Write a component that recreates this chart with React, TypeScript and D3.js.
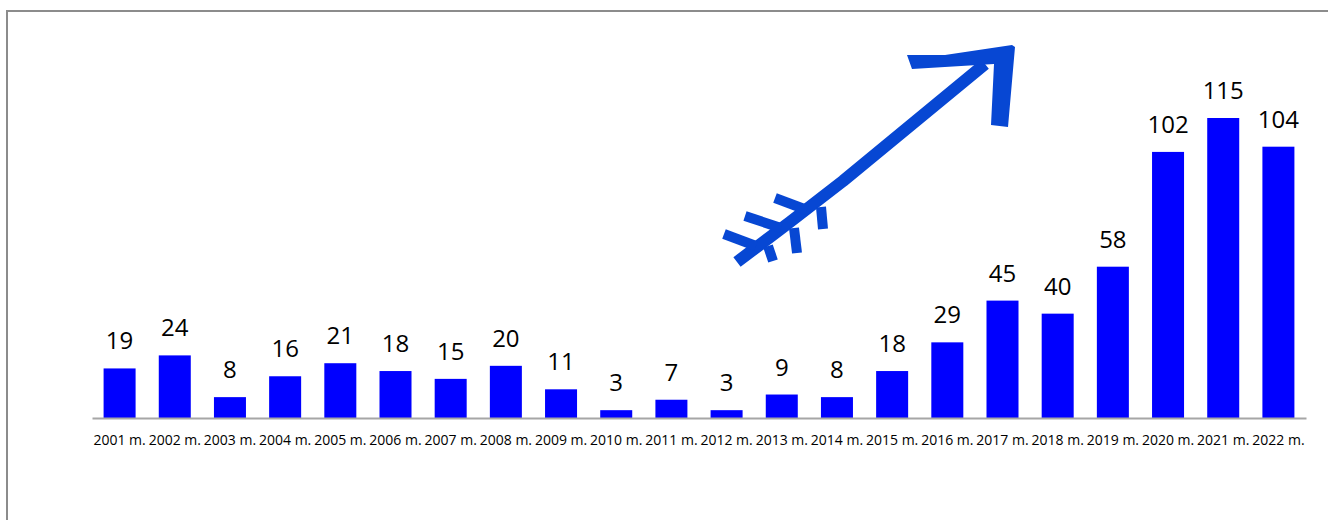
import React, { useEffect, useRef } from 'react';
import * as d3 from 'd3';

const years = [
  '2001 m.', '2002 m.', '2003 m.', '2004 m.', '2005 m.', '2006 m.', '2007 m.', '2008 m.',
  '2009 m.', '2010 m.', '2011 m.', '2012 m.', '2013 m.', '2014 m.', '2015 m.', '2016 m.',
  '2017 m.', '2018 m.', '2019 m.', '2020 m.', '2021 m.', '2022 m.',
];
const counts = [19, 24, 8, 16, 21, 18, 15, 20, 11, 3, 7, 3, 9, 8, 18, 29, 45, 40, 58, 102, 115, 104];

const W = 1328;
const H = 520;
const FONT = "'Open Sans', sans-serif";

const App: React.FC = () => {
  const svgRef = useRef<SVGSVGElement>(null);

  useEffect(() => {
    if (!svgRef.current) return;
    const svg = d3.select(svgRef.current);
    svg.selectAll('*').remove();

    const data = years.map((y, i) => ({ year: y, value: counts[i] }));

    // frame
    svg.append('rect')
      .attr('x', 7).attr('y', 11)
      .attr('width', W).attr('height', H)
      .attr('fill', 'white')
      .attr('stroke', '#8c8c8c')
      .attr('stroke-width', 2);

    const x = d3.scaleBand()
      .domain(years)
      .range([92, 1306])
      .paddingInner(0.42)
      .paddingOuter(0.21);

    const y = d3.scaleLinear()
      .domain([0, 115])
      .range([418, 118]);

    svg.append('g')
      .selectAll('rect')
      .data(data)
      .join('rect')
      .attr('x', d => x(d.year) || 0)
      .attr('y', d => y(d.value))
      .attr('width', x.bandwidth())
      .attr('height', d => y(0) - y(d.value))
      .attr('fill', '#0000ff');

    // axis
    const axis = svg.append('g')
      .attr('transform', `translate(0,${y(0)})`)
      .call(d3.axisBottom(x).tickSize(0).tickPadding(0));
    axis.select('.domain').attr('stroke', '#a6a6a6').attr('stroke-width', 2);
    axis.selectAll('text')
      .attr('y', 27)
      .attr('dy', null)
      .attr('font-family', FONT)
      .attr('font-size', 14)
      .attr('fill', '#000');

    // value labels
    svg.append('g')
      .selectAll('text')
      .data(data)
      .join('text')
      .attr('x', d => (x(d.year) || 0) + x.bandwidth() / 2)
      .attr('y', d => y(d.value) - 19)
      .attr('text-anchor', 'middle')
      .attr('font-family', FONT)
      .attr('font-size', 24)
      .attr('fill', '#000')
      .text(d => d.value);

    // decorative arrow
    const arrowColor = '#0747d3';
    const arrow = svg.append('g').attr('fill', arrowColor).attr('stroke', arrowColor);
    arrow.append('path')
      .attr('d', 'M737,262 L790,222 L843,181 L985,64')
      .attr('fill', 'none')
      .attr('stroke-width', 12)
      .attr('stroke-linejoin', 'round');
    arrow.append('path')
      .attr('d', 'M907,55 L945,55 L1012,45 L1015,47 L1008,127 L991,125 L994,64 L912,69 Z')
      .attr('stroke', 'none');
    const fins = [
      'M756,246 L724,234', 'M781,228 L745,216', 'M807,210 L775,198',
      'M768,246 L773,261', 'M794,228 L797,253', 'M821,207 L823,229',
    ];
    arrow.selectAll('path.fin')
      .data(fins)
      .join('path')
      .attr('class', 'fin')
      .attr('d', d => d)
      .attr('fill', 'none')
      .attr('stroke-width', 10);
  }, []);

  return (
    <svg
      ref={svgRef}
      width={W}
      height={H}
      style={{ position: 'absolute', left: 0, top: 0, display: 'block', background: 'white' }}
    />
  );
};

export default App;
